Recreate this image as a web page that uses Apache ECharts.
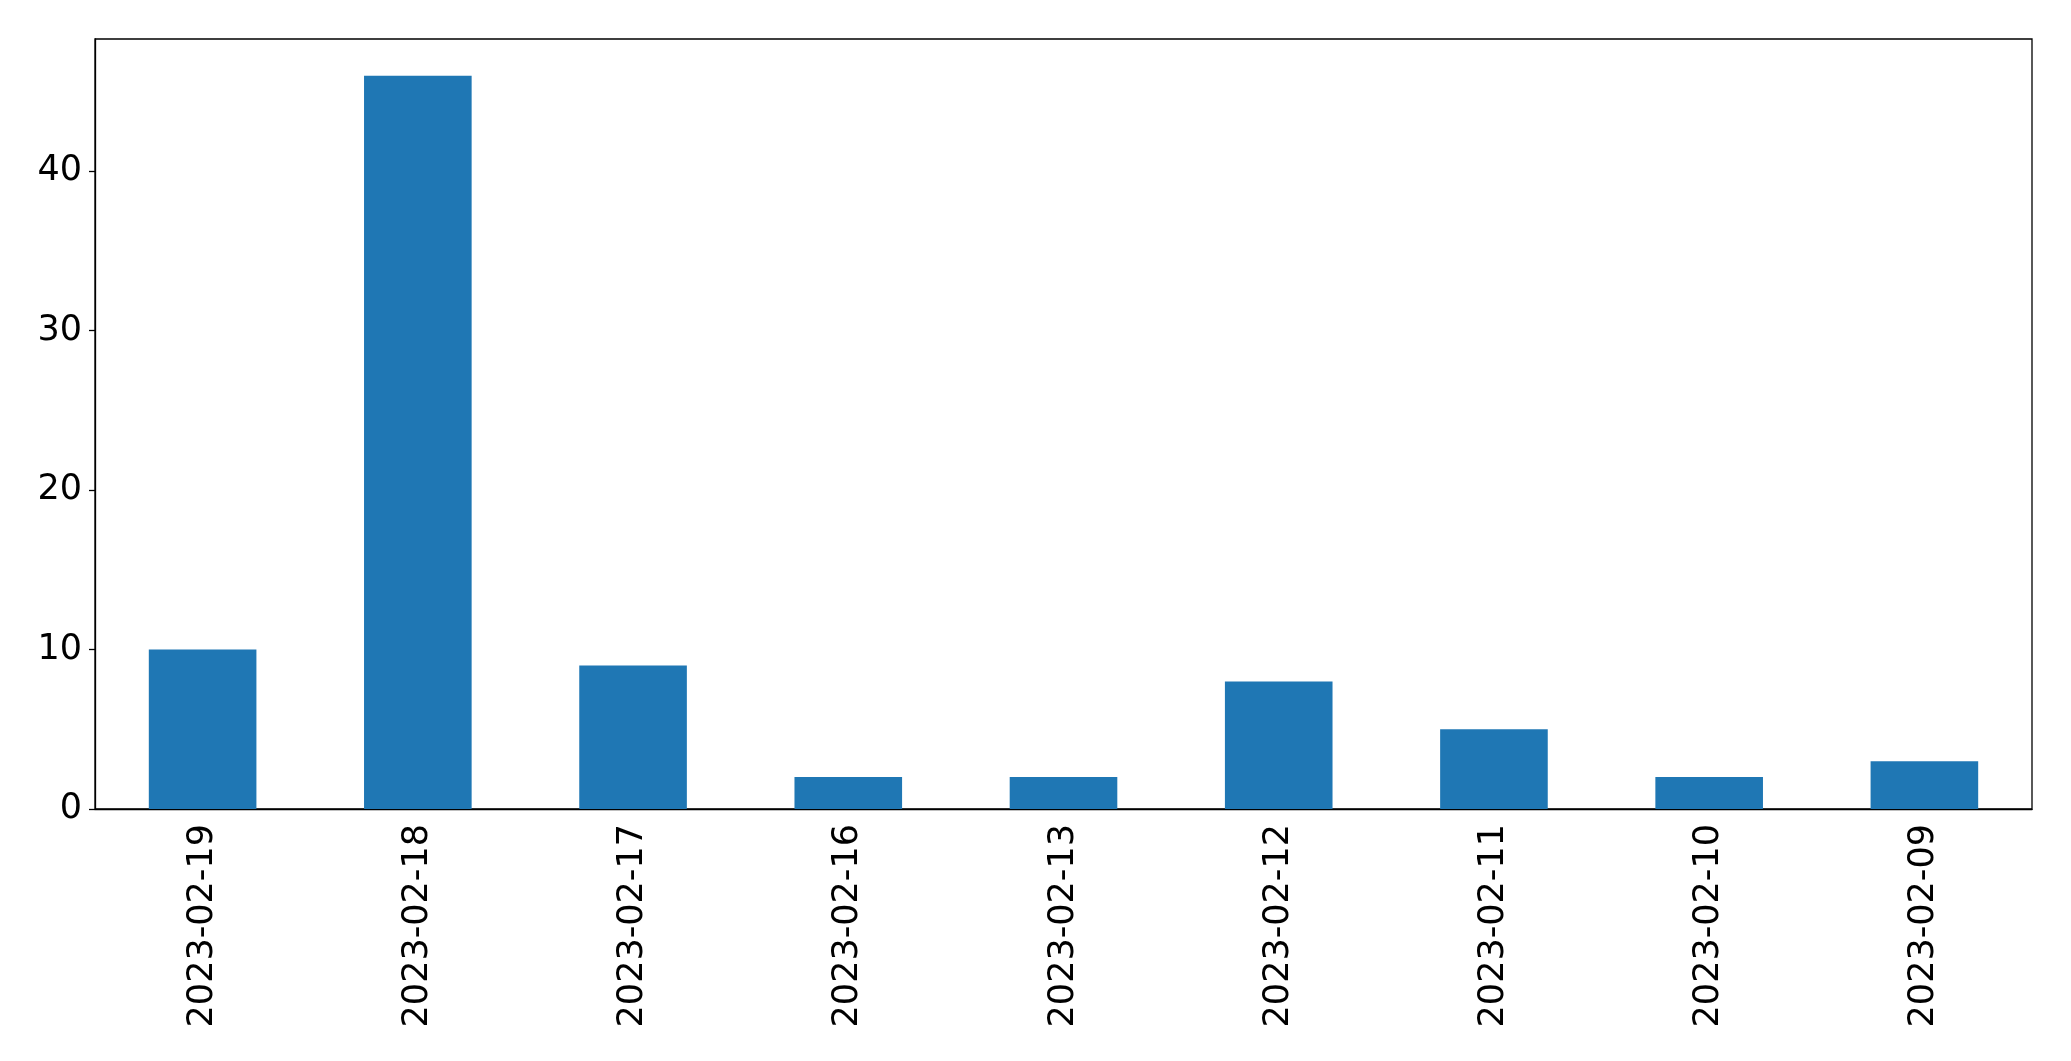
<!DOCTYPE html>
<html>
<head>
<meta charset="utf-8">
<script src="https://cdn.jsdelivr.net/npm/echarts@6/dist/echarts.min.js"></script>
<style>
html,body{margin:0;padding:0;background:#fff;}
#chart{width:2071px;height:1061px;}
</style>
</head>
<body>
<div id="chart"></div>
<script>
const categories = ["2023-02-19","2023-02-18","2023-02-17","2023-02-16","2023-02-13","2023-02-12","2023-02-11","2023-02-10","2023-02-09"];
const counts = [10, 46, 9, 2, 2, 8, 5, 2, 3];

const chart = echarts.init(document.getElementById('chart'), null, {renderer: 'canvas'});
const font = 'DejaVu Sans';
chart.setOption({
  animation: false,
  backgroundColor: '#fff',
  grid: {left: 95, right: 39, top: 39, bottom: 252, show: true, borderColor: '#000', borderWidth: 1.3, backgroundColor: 'transparent'},
  xAxis: {
    type: 'category',
    data: categories,
    boundaryGap: true,
    axisLine: {lineStyle: {color: '#000', width: 1.3}},
    axisTick: {alignWithLabel: true, length: 6, lineStyle: {color: '#000', width: 1.3}},
    axisLabel: {rotate: 90, margin: 15, fontFamily: font, fontSize: 35, color: '#000', interval: 0}
  },
  yAxis: {
    type: 'value',
    min: 0,
    max: 48.3,
    interval: 10,
    splitLine: {show: false},
    axisLine: {show: true, lineStyle: {color: '#000', width: 1.3}},
    axisTick: {show: true, length: 6, lineStyle: {color: '#000', width: 1.3}},
    axisLabel: {margin: 13, fontFamily: font, fontSize: 35, color: '#000', showMaxLabel: false}
  },
  series: [{
    type: 'bar',
    data: counts,
    barWidth: '50%',
    itemStyle: {color: '#1f77b4'}
  }]
});
</script>
</body>
</html>
